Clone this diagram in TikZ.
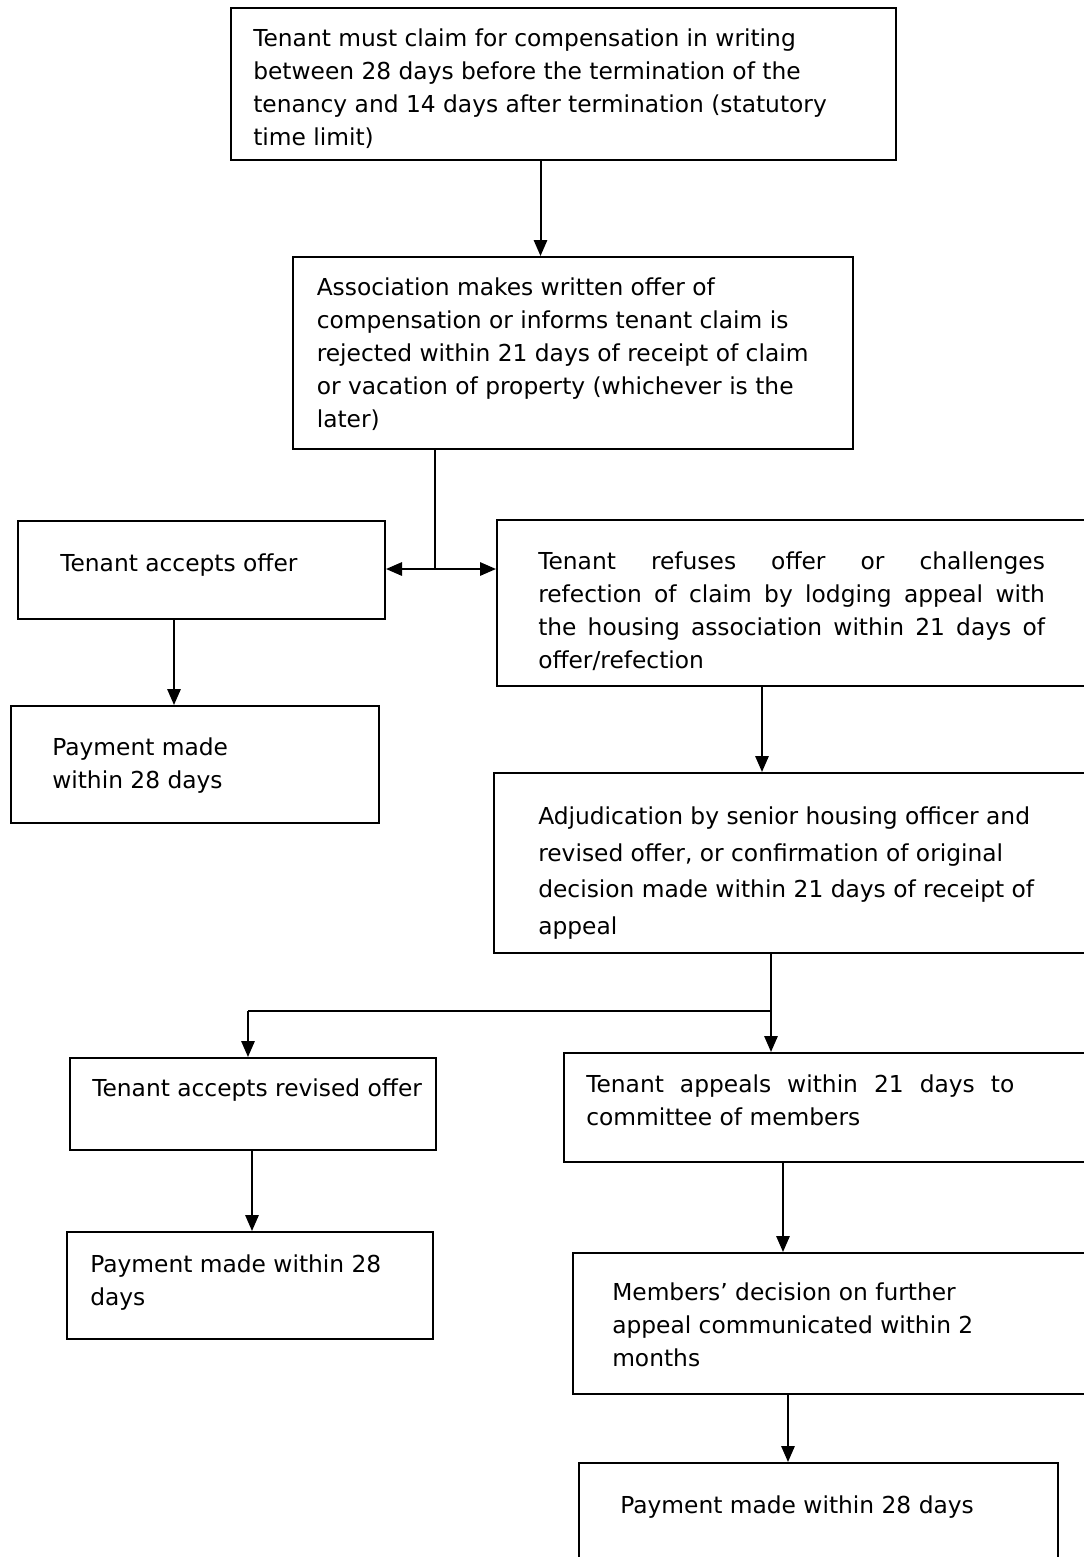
\documentclass[tikz,border=0pt]{standalone}
\usepackage{fontspec}
\setmainfont{DejaVu Sans}
\usetikzlibrary{arrows.meta}
\tikzset{
  boxnode/.style={draw, line width=1.5pt, inner sep=0pt, anchor=north west},
  txtnode/.style={anchor=base west, inner sep=0pt, align=left, font=\fontsize{17.5pt}{24.75pt}\selectfont},
  flowline/.style={line width=1.5pt},
  flowarrow/.style={line width=1.5pt, -{Triangle[length=12pt,width=10pt]}}
}
\begin{document}
\begin{tikzpicture}[x=0.75pt,y=0.75pt,yscale=-1,xscale=1]
            \useasboundingbox (0,0) rectangle (1084,1557);
            %Shape: Rectangle [claim]
            \node [boxnode, minimum width=498.75pt, minimum height=114pt] (claim) at (230,7) {};
            %Shape: Rectangle [assoc]
            \node [boxnode, minimum width=420pt, minimum height=144pt] (assoc) at (292,256) {};
            %Shape: Rectangle [accept]
            \node [boxnode, minimum width=275.25pt, minimum height=73.5pt] (accept) at (17,520) {};
            %Shape: Rectangle [refuse]
            \node [boxnode, minimum width=447pt, minimum height=124.5pt] (refuse) at (496,519) {};
            %Shape: Rectangle [payA]
            \node [boxnode, minimum width=276pt, minimum height=87.75pt] (payA) at (10,705) {};
            %Shape: Rectangle [adjud]
            \node [boxnode, minimum width=449.25pt, minimum height=135pt] (adjud) at (493,772) {};
            %Shape: Rectangle [revised]
            \node [boxnode, minimum width=274.5pt, minimum height=69pt] (revised) at (69,1057) {};
            %Shape: Rectangle [appeal]
            \node [boxnode, minimum width=396.75pt, minimum height=81.75pt] (appeal) at (563,1052) {};
            %Shape: Rectangle [payB]
            \node [boxnode, minimum width=274.5pt, minimum height=80.25pt] (payB) at (66,1231) {};
            %Shape: Rectangle [members]
            \node [boxnode, minimum width=390pt, minimum height=105.75pt] (members) at (572,1252) {};
            %Shape: Rectangle [payC]
            \node [boxnode, minimum width=359.25pt, minimum height=81pt] (payC) at (578,1462) {};

            % Connector points
            \coordinate (c1) at (540.5,0);
            \coordinate (c3) at (174,0);
            \coordinate (c4) at (762,0);
            \coordinate (c7) at (252,0);
            \coordinate (c8) at (783,0);
            \coordinate (c10) at (788,0);
            \coordinate (split1) at (435,569);
            \coordinate (split2) at (771,1011);
            \coordinate (split2l) at (248,1011);

            %Straight Lines
            \draw [flowarrow] (claim.south -| c1) -- (assoc.north -| c1);
            %Straight Lines
            \draw [flowline] (assoc.south -| split1) -- (split1);
            \draw [flowarrow] (split1) -- (accept.east |- split1);
            \draw [flowarrow] (split1) -- (refuse.west |- split1);
            %Straight Lines
            \draw [flowarrow] (accept.south -| c3) -- (payA.north -| c3);
            %Straight Lines
            \draw [flowarrow] (refuse.south -| c4) -- (adjud.north -| c4);
            %Straight Lines
            \draw [flowarrow] (adjud.south -| split2) -- (appeal.north -| split2);
            \draw [flowline] (split2) -- (split2l);
            \draw [flowarrow] (split2l) -- (revised.north -| split2l);
            %Straight Lines
            \draw [flowarrow] (revised.south -| c7) -- (payB.north -| c7);
            %Straight Lines
            \draw [flowarrow] (appeal.south -| c8) -- (members.north -| c8);
            %Straight Lines
            \draw [flowarrow] (members.south -| c10) -- (payC.north -| c10);

            % Text Node
            \node [txtnode] (claimtxt) at (253,145) {Tenant must claim for compensation in writing\\between 28 days before the termination of the\\tenancy and 14 days after termination (statutory\\time limit)};
            % Text Node
            \node [txtnode] (assoctxt) at (316.5,427) {Association makes written offer of\\compensation or informs tenant claim is\\rejected within 21 days of receipt of claim\\or vacation of property (whichever is the\\later)};
            % Text Node
            \node [txtnode] (accepttxt) at (60,571) {Tenant accepts offer};
            % Text Node
            \node [txtnode] (refusetxt) at (538,668) {\makebox[380pt][s]{Tenant refuses offer or challenges}\\\makebox[380pt][s]{refection of claim by lodging appeal with}\\\makebox[380pt][s]{the housing association within 21 days of}\\offer/refection};
            % Text Node
            \node [txtnode] (payAtxt) at (52,788) {Payment made\\within 28 days};
            % Text Node
            \node [txtnode, font=\fontsize{17.5pt}{27.4pt}\selectfont] (adjudtxt) at (538,934.5) {Adjudication by senior housing officer and\\revised offer, or confirmation of original\\decision made within 21 days of receipt of\\appeal};
            % Text Node
            \node [txtnode] (revisedtxt) at (92,1096) {Tenant accepts revised offer};
            % Text Node
            \node [txtnode] (appealtxt) at (586,1125) {\makebox[321pt][s]{Tenant appeals within 21 days to}\\committee of members};
            % Text Node
            \node [txtnode] (payBtxt) at (90,1305) {Payment made within 28\\days};
            % Text Node
            \node [txtnode] (memberstxt) at (612,1366) {Members’ decision on further\\appeal communicated within 2\\months};
            % Text Node
            \node [txtnode] (payCtxt) at (620,1513) {Payment made within 28 days};
\end{tikzpicture}
\end{document}
